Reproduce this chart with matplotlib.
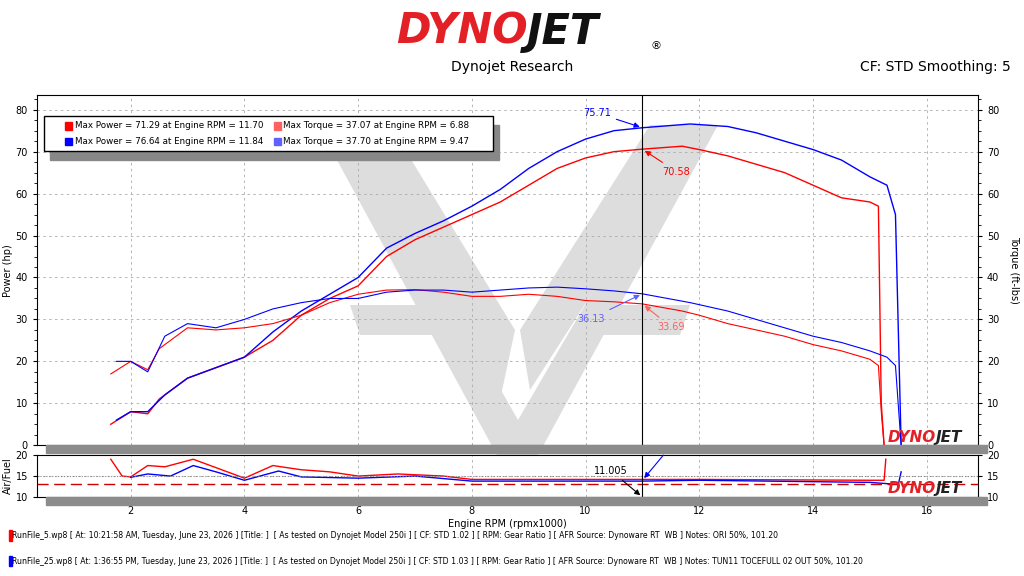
import matplotlib
matplotlib.use("Agg")
import matplotlib.pyplot as plt
from matplotlib.patches import Rectangle, Polygon
import numpy as np

plt.rcParams["font.family"] = ["DejaVu Sans"]

# run 5 (red)
rpm_r = [1.65, 2.0, 2.3, 2.5, 3.0, 3.5, 4.0, 4.5, 5.0, 5.5, 6.0, 6.5, 7.0, 7.5, 8.0, 8.5,
         9.0, 9.5, 10.0, 10.5, 11.0, 11.7, 12.0, 12.5, 13.0, 13.5, 14.0, 14.5, 15.0, 15.15, 15.2, 15.25]
pow_r = [5, 8, 7.5, 11, 16, 18.5, 21, 25, 31, 35, 38, 45, 49, 52, 55, 58,
         62, 66, 68.5, 70, 70.6, 71.3, 70.5, 69, 67, 65, 62, 59, 58, 57, 10, 0]
trq_r = [17, 20, 18, 23, 28, 27.5, 28, 29, 31, 34, 36, 37, 37.1, 36.5, 35.5, 35.5,
         36, 35.5, 34.5, 34.2, 33.7, 32, 31, 29, 27.5, 26, 24, 22.5, 20.5, 19, 8, 0]
# run 25 (blue)
rpm_b = [1.75, 2.0, 2.3, 2.6, 3.0, 3.5, 4.0, 4.5, 5.0, 5.5, 6.0, 6.5, 7.0, 7.5, 8.0, 8.5,
         9.0, 9.5, 10.0, 10.5, 11.0, 11.84, 12.5, 13.0, 13.5, 14.0, 14.5, 15.0, 15.3, 15.45, 15.55]
pow_b = [6, 8, 8, 12, 16, 18.5, 21, 27, 32, 36, 40, 47, 50.5, 53.5, 57, 61,
         66, 70, 73, 75, 75.7, 76.6, 76, 74.5, 72.5, 70.5, 68, 64, 62, 55, 0]
trq_b = [20, 20, 17.5, 26, 29, 28, 30, 32.5, 34, 35, 35, 36.5, 37, 37, 36.5, 37,
         37.5, 37.7, 37.3, 36.8, 36.1, 34, 32, 30, 28, 26, 24.5, 22.5, 21, 19, 0]

afr_rpm_r = [1.65, 1.85, 2.0, 2.3, 2.6, 3.1, 3.5, 4.0, 4.5, 5.0, 5.5, 6.0, 6.7, 7.5, 8.0,
             10.0, 11.0, 12.0, 15.0, 15.25, 15.28]
afr_r = [19, 15, 14.8, 17.5, 17.2, 19, 17, 14.5, 17.5, 16.5, 16, 15, 15.5, 15, 14.2,
         14.2, 14.2, 14.2, 14.0, 14.0, 19]
afr_rpm_b = [2.0, 2.3, 2.7, 3.1, 3.5, 4.0, 4.6, 5.0, 6.0, 7.0, 8.0, 11.0, 12.0, 15.0, 15.5, 15.55]
afr_b = [14.7, 15.5, 15, 17.5, 16, 14, 16.2, 14.8, 14.5, 15, 13.8, 13.8, 14, 13.5, 13, 16]
afr_target = 13.2
cursor = 11.0

RED, BLUE = "#ff0000", "#0000ff"
LRED, LBLUE = "#ff6060", "#6060ff"

fig = plt.figure(figsize=(10.24, 5.76), dpi=100)
ax = fig.add_axes([0.036, 0.227, 0.919, 0.608])
ax2 = fig.add_axes([0.036, 0.137, 0.919, 0.073])

# watermark (figure pixel outline, drawn inside the main axes)
wm = [[(318, 125), (505, 470), (530, 470), (718, 125), (690, 125), (518, 420), (350, 125)],
      [(330, 125), (500, 400), (515, 330), (390, 125)],
      [(700, 125), (530, 390), (520, 330), (650, 125)],
      [(350, 305), (445, 305), (455, 335), (360, 335)],
      [(595, 305), (690, 305), (680, 335), (585, 335)]]
for p in wm:
    pts = [(x / 1024, 1 - y / 576) for x, y in p]
    ax.add_patch(Polygon(pts, closed=True, transform=fig.transFigure,
                         color="#dddddd", zorder=0, clip_on=False, lw=0))

# gray shadow strips
for y0, h in [(0.213, 0.014), (0.123, 0.014)]:
    fig.patches.append(Rectangle((0.045, y0), 0.919, h, transform=fig.transFigure,
                                 color="#8c8c8c", zorder=0))

ax.plot(rpm_r, pow_r, color=RED, lw=1, zorder=3)
ax.plot(rpm_b, pow_b, color=BLUE, lw=1, zorder=3)
ax.plot(rpm_r, trq_r, color=RED, lw=0.8, zorder=3)
ax.plot(rpm_b, trq_b, color=BLUE, lw=0.8, zorder=3)
ax.axvline(cursor, color="black", lw=0.8, zorder=3)

for a in (ax, ax2):
    a.set_xlim(0.35, 16.9)
    a.grid(True, color="#aaaaaa", ls=(0, (3, 4)), lw=0.6, zorder=1)
    a.set_axisbelow(True)
    a.set_xticks([2, 4, 6, 8, 10, 12, 14, 16])
    a.tick_params(labelsize=7, length=3, right=True, labelright=True)

ax.set_ylim(0, 83.5)
ax.set_yticks(range(0, 81, 10))
ax.set_yticks(np.arange(0, 83, 2.5), minor=True)
ax.tick_params(which="minor", length=2, right=True)
ax.tick_params(axis="x", labelbottom=False)
ax.set_ylabel("Power (hp)", fontsize=7, labelpad=2)
ax.text(1.038, 0.5, "Torque (ft-lbs)", transform=ax.transAxes, rotation=270,
        fontsize=7, va="center", ha="center")

ax2.plot(afr_rpm_r, afr_r, color=RED, lw=1)
ax2.plot(afr_rpm_b, afr_b, color=BLUE, lw=1)
ax2.axhline(afr_target, color="#cc0000", ls=(0, (8, 4)), lw=1)
ax2.axhline(15, color="#888888", ls=":", lw=0.8)
ax2.axvline(cursor, color="black", lw=0.8)
ax2.set_ylim(10, 20)
ax2.set_yticks([10, 15, 20])
ax2.set_ylabel("Air/Fuel", fontsize=7, labelpad=2)
ax2.set_xlabel("Engine RPM (rpmx1000)", fontsize=7, labelpad=2)

# cursor annotations
ann = [(11.0, 75.71, 10.2, 78.5, BLUE, "75.71"),
       (11.0, 70.58, 11.6, 64.5, RED, "70.58"),
       (11.0, 36.13, 10.1, 29.5, LBLUE, "36.13"),
       (11.0, 33.69, 11.5, 27.5, LRED, "33.69")]
for x, y, tx, ty, c, s in ann:
    ax.annotate(s, xy=(x, y), xytext=(tx, ty), fontsize=7, color=c, ha="center", zorder=4,
                arrowprops=dict(arrowstyle="-|>", color=c, lw=0.8, mutation_scale=8))
ax2.annotate("11.005", xy=(cursor, 10), xytext=(10.45, 15.5), fontsize=7, ha="center",
             arrowprops=dict(arrowstyle="-|>", color="black", lw=0.8, mutation_scale=8))
ax2.annotate("", xy=(cursor, 14), xytext=(11.4, 20.5), annotation_clip=False,
             arrowprops=dict(arrowstyle="-|>", color=BLUE, lw=0.8, mutation_scale=8))

# legend box
lx, ly, lw_, lh = 0.008, 0.84, 0.477, 0.1
ax.add_patch(Rectangle((lx + 0.006, ly - 0.025), lw_, lh, transform=ax.transAxes,
                       color="#888888", zorder=4))
ax.add_patch(Rectangle((lx, ly), lw_, lh, transform=ax.transAxes, fc="white",
                       ec="black", lw=1, zorder=5))
leg = [(0.03, 0.912, RED, "Max Power = 71.29 at Engine RPM = 11.70"),
       (0.03, 0.867, BLUE, "Max Power = 76.64 at Engine RPM = 11.84"),
       (0.252, 0.912, LRED, "Max Torque = 37.07 at Engine RPM = 6.88"),
       (0.252, 0.867, LBLUE, "Max Torque = 37.70 at Engine RPM = 9.47")]
for x, y, c, s in leg:
    ax.add_patch(Rectangle((x, y - 0.011), 0.007, 0.022, transform=ax.transAxes,
                           color=c, zorder=6))
    ax.text(x + 0.01, y, s, transform=ax.transAxes, fontsize=6.3, va="center", zorder=6)

# in-plot logos
for a, y in [(ax, 0.0), (ax2, 0.02)]:
    a.text(0.955, y, "DYNO", transform=a.transAxes, ha="right", va="bottom",
           fontsize=11, fontweight="bold", style="italic", color="#e32026", zorder=4)
    a.text(0.955, y, "JET", transform=a.transAxes, ha="left", va="bottom",
           fontsize=11, fontweight="bold", style="italic", color="#222222", zorder=4)

# header
fig.text(0.515, 0.945, "DYNO", ha="right", va="center", fontsize=30,
         fontweight="bold", style="italic", color="#e32026")
fig.text(0.515, 0.945, "JET", ha="left", va="center", fontsize=30,
         fontweight="bold", style="italic", color="#111111")
fig.text(0.635, 0.92, "®", fontsize=8, va="center")
fig.text(0.5, 0.884, "Dynojet Research", ha="center", va="center", fontsize=10)
fig.text(0.987, 0.884, "CF: STD Smoothing: 5", ha="right", va="center", fontsize=10)

# footer
foot = [(0.0695, RED, "RunFile_5.wp8 [ At: 10:21:58 AM, Tuesday, June 23, 2026 ] [Title: ]  [ As tested on Dynojet Model 250i ] [ CF: STD 1.02 ] [ RPM: Gear Ratio ] [ AFR Source: Dynoware RT  WB ] Notes: ORI 50%, 101.20"),
        (0.025, BLUE, "RunFile_25.wp8 [ At: 1:36:55 PM, Tuesday, June 23, 2026 ] [Title: ]  [ As tested on Dynojet Model 250i ] [ CF: STD 1.03 ] [ RPM: Gear Ratio ] [ AFR Source: Dynoware RT  WB ] Notes: TUN11 TOCEFULL 02 OUT 50%, 101.20")]
for y, c, s in foot:
    fig.patches.append(Rectangle((0.009, y - 0.008), 0.003, 0.018,
                                 transform=fig.transFigure, color=c))
    fig.text(0.012, y, s, fontsize=5.6, va="center")

fig.savefig("out.png", dpi=100)
